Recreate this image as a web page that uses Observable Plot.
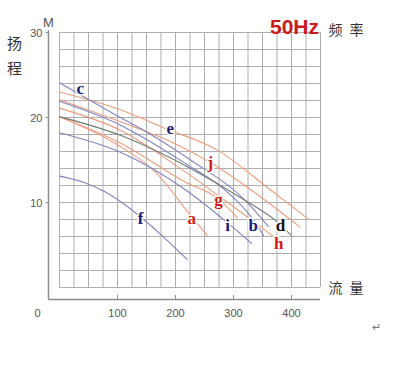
<!DOCTYPE html>
<html><head><meta charset="utf-8">
<script src="https://cdn.jsdelivr.net/npm/d3@7"></script>
<script src="https://cdn.jsdelivr.net/npm/@observablehq/plot@0.6"></script>
<style>body{margin:0;background:#fff}svg{display:block}</style>
</head><body><div id="chart"></div>
<script>
// Pump curves: [flow Q, head H]
const curveA = [[0,20.1],[100,16.8],[165,13.6],[228,8.3],[255,6.1]];
const curveB = [[0,21.9],[105,19.1],[217,14.6],[290,11.2],[334,8.0],[352,6.1]];
const curveC = [[0,24.1],[105,20.0],[150,18.3],[226,15.0],[321,10.2],[360,7.2]];
const curveD = [[0,20.1],[105,17.9],[226,14.0],[321,10.2],[372,7.9],[400,6.1]];
const curveE = [[0,23.0],[105,20.9],[179,18.8],[274,16.1],[358,11.8],[430,8.0]];
const curveF = [[0,13.1],[40,12.4],[80,11.2],[140,8.3],[180,5.9],[220,3.3]];
const curveG = [[0,20.1],[105,17.0],[217,12.4],[274,10.4],[307,8.2]];
const curveH = [[0,21.1],[105,18.5],[217,13.6],[286,10.2],[367,6.1]];
const curveI = [[0,18.2],[105,15.9],[217,11.5],[290,7.6],[331,5.2]];
const curveJ = [[0,22.1],[105,19.5],[190,17.2],[260,14.7],[340,11.0],[415,7.1]];

const curveNames = ["a","b","c","d","e","f","g","h","i","j"];
const curveData = [curveA,curveB,curveC,curveD,curveE,curveF,curveG,curveH,curveI,curveJ];
const curveGroup = ["orange","blue","blue","dark","orange","blue","orange","orange","blue","orange"];

// curve labels (data coordinates)
const labelText = ["c","e","j","g","a","f","i","b","d","h"];
const labelQ = [36,191,260,274,228,140,290,334,381,378];
const labelH = [23.4,18.7,14.7,10.4,8.1,8.1,7.3,7.3,7.3,5.2];
const labelGroup = ["navy","navy","red","red","red","navy","navy","navy","black","red"];

const xTicks = [100,200,300,400];
const yTicks = [10,20,30];
const xGrid = d3.range(0, 451, 25);
const yGrid = d3.range(0, 31, 2);

const lineColor = {orange:"#ee9c7c", blue:"#8083c2", dark:"#717c74"};
const labelColor = {navy:"#1b1b7a", red:"#d11919", black:"#111111"};

const rows = curveData.flatMap((pts,i)=>pts.map(([q,h])=>({name:curveNames[i], group:curveGroup[i], q, h})));
const labels = labelText.map((t,i)=>({t, q:labelQ[i], h:labelH[i], g:labelGroup[i]}));

const axisQ = -19, axisH = -1.4, textH = -3.1;
const sans = "Liberation Sans, Arial, sans-serif";
const cjk = "Noto Sans CJK SC, sans-serif";
const deco = (s, dx, dy, o) => Plot.text([s], {frameAnchor:"top-left", textAnchor:"middle", dx, dy, text:d=>d, ...o});
const cjkStyle = {fill:"#333", fontSize:14, fontFamily:cjk};

const chart = Plot.plot({
  width: 414, height: 370,
  marginLeft: 59, marginRight: 94, marginTop: 32, marginBottom: 83,
  x: {domain:[0,450], axis:null},
  y: {domain:[0,30], axis:null},
  style: {background:"#fff"},
  marks: [
    Plot.ruleX(xGrid, {x:d=>d, y1:0, y2:30, stroke:"#afafaf", strokeWidth:1}),
    Plot.ruleY(yGrid, {y:d=>d, x1:0, x2:450, stroke:"#afafaf", strokeWidth:1}),
    ...["orange","blue","dark"].map(g =>
      Plot.line(rows.filter(r=>r.group===g), {x:"q", y:"h", z:"name", stroke:lineColor[g], strokeWidth:1.1, curve:"monotone-x"})),
    Plot.text(labels, {x:"q", y:"h", text:"t", fill:d=>labelColor[d.g], stroke:"#fff", strokeWidth:3,
      fontFamily:"Liberation Serif, Times New Roman, serif", fontWeight:"bold", fontSize:17}),
    // axes
    Plot.ruleY([axisH], {y:d=>d, x1:axisQ, x2:450, stroke:"#8c8c8c", strokeWidth:1.5}),
    Plot.ruleX([axisQ], {x:d=>d, y1:axisH, y2:30.2, stroke:"#8c8c8c", strokeWidth:1.5}),
    Plot.ruleX(xTicks, {x:d=>d, y1:axisH, y2:-0.95, stroke:"#8c8c8c", strokeWidth:1}),
    Plot.ruleY(yTicks, {y:d=>d, x1:axisQ, x2:-23, stroke:"#8c8c8c", strokeWidth:1}),
    Plot.text(xTicks, {x:d=>d, y:textH, text:d=>String(d), fill:"#555", fontSize:11, fontFamily:sans}),
    Plot.text(yTicks, {x:axisQ, y:d=>d, dx:-6, dy:1, text:d=>String(d), textAnchor:"end", fill:"#555", fontSize:11, fontFamily:sans}),
    Plot.text(["0"], {x:-38, y:textH, text:d=>d, fill:"#555", fontSize:11, fontFamily:sans}),
    // titles
    deco("M", -11, -15, {fill:"#555", fontSize:13, fontFamily:sans}),
    deco("扬", -45, 6, {fill:"#333", fontSize:15, fontFamily:cjk}),
    deco("程", -45, 31, {fill:"#333", fontSize:15, fontFamily:cjk}),
    deco("50Hz", 235, -13, {fill:"#cc1a1a", fontSize:21, fontWeight:"bold", fontFamily:sans}),
    deco("频", 276, -7, cjkStyle),
    deco("率", 297, -7, cjkStyle),
    deco("流", 276, 251, cjkStyle),
    deco("量", 297, 251, cjkStyle),
    deco("↵", 317, 291, {fill:"#777", fontSize:11, fontFamily:sans})
  ]
});
document.getElementById("chart").append(chart);
</script></body></html>
